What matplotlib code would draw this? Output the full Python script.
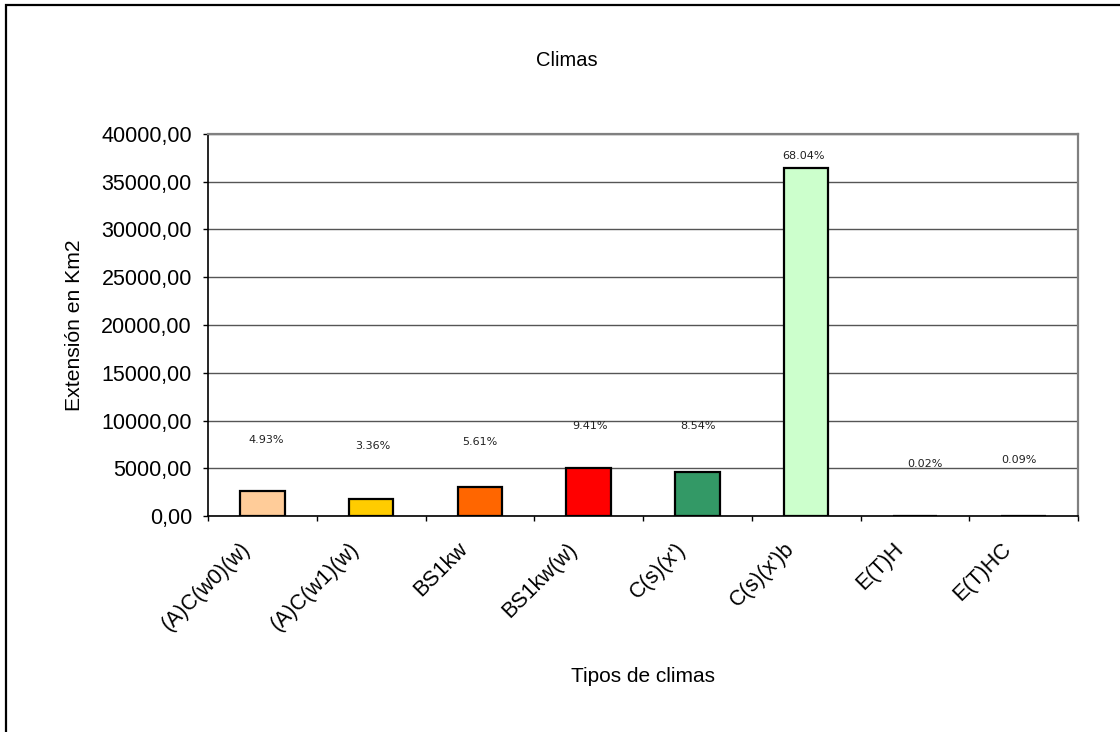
import matplotlib
matplotlib.use("Agg")
import matplotlib.pyplot as plt
from matplotlib.patches import Rectangle
from matplotlib.ticker import FuncFormatter, FixedLocator
from matplotlib.transforms import ScaledTranslation

# Climate types and their extent (km2)
climas = ["(A)C(w0)(w)", "(A)C(w1)(w)", "BS1kw", "BS1kw(w)",
          "C(s)(x')", "C(s)(x')b", "E(T)H", "E(T)HC"]
extension_km2 = [2640, 1800, 3005, 5040, 4574, 36442, 11, 48]
colores = ["#FFCC99", "#FFCC00", "#FF6600", "#FF0000",
           "#339966", "#CCFFCC", "#FFFFFF", "#FFFFFF"]
y_ticks = [0, 5000, 10000, 15000, 20000, 25000, 30000, 35000, 40000]

# Pixel offsets of the percentage labels relative to each bar top
label_dy = [51, 53, 45, 42, 46, 12, 52, 56]
label_dx = [4, 2, 0, 1, 1, -3, 10, -5]

W, H = 1120, 732
fig = plt.figure(figsize=(W / 100, H / 100), dpi=100)
fig.patch.set_facecolor("white")
plt.rcParams["font.family"] = ["Liberation Sans", "DejaVu Sans"]

ax = fig.add_axes([208 / W, 1 - 516 / H, (1078 - 208) / W, (516 - 134) / H])

x = list(range(len(climas)))
ax.bar(x, extension_km2, width=0.41, color=colores, edgecolor="black",
       linewidth=1.6, zorder=3)

total = sum(extension_km2)
for i, v in enumerate(extension_km2):
    pct = v / total * 100
    ax.annotate(f"{pct:.2f}%", xy=(i, v), xytext=(label_dx[i], label_dy[i]),
                textcoords="offset pixels", ha="center", va="center",
                fontsize=8, family="DejaVu Sans", color="#222222", zorder=4)

ax.set_xlim(-0.5, len(climas) - 0.5)
ax.set_ylim(0, 40000)
ax.set_yticks(y_ticks)
ax.yaxis.set_major_formatter(FuncFormatter(lambda v, p: f"{v:.2f}".replace(".", ",")))
ax.yaxis.grid(True, color="#555555", linewidth=1.0, zorder=1)

# Category boundaries carry the tick marks; names are placed under each bar
ax.xaxis.set_major_locator(FixedLocator([i - 0.5 for i in range(len(climas) + 1)]))
ax.xaxis.set_major_formatter(FuncFormatter(lambda v, p: ""))
ax.tick_params(axis="x", which="major", length=3.6, width=1.0, color="black")
ax.tick_params(axis="y", which="major", length=3.6, width=1.0, labelsize=15.5, pad=8)

name_tr = ax.get_xaxis_transform() + ScaledTranslation(-15 / 100, -30 / 100,
                                                       fig.dpi_scale_trans)
for i, name in enumerate(climas):
    ax.text(i, 0, name, transform=name_tr, rotation=45, ha="right", va="center",
            rotation_mode="anchor", fontsize=15.5, clip_on=False)

for s in ("top", "right"):
    ax.spines[s].set_color("#808080")
    ax.spines[s].set_linewidth(1.6)
for s in ("left", "bottom"):
    ax.spines[s].set_color("black")
    ax.spines[s].set_linewidth(1.2)
ax.set_axisbelow(True)

fig.text(567 / W, 1 - 60 / H, "Climas", ha="center", va="center", fontsize=14.5)
fig.text(643 / W, 1 - 676 / H, "Tipos de climas", ha="center", va="center", fontsize=15)
fig.text(75 / W, 1 - 325 / H, "Extensión en Km2", ha="center", va="center",
         rotation=90, fontsize=15.2)

# Outer chart frame
fig.add_artist(Rectangle((6 / W, -0.05), 1.1, 1 - 5 / H + 0.05,
                         transform=fig.transFigure, fill=False,
                         edgecolor="black", linewidth=1.6))

fig.savefig("out.png", dpi=100, facecolor="white")
